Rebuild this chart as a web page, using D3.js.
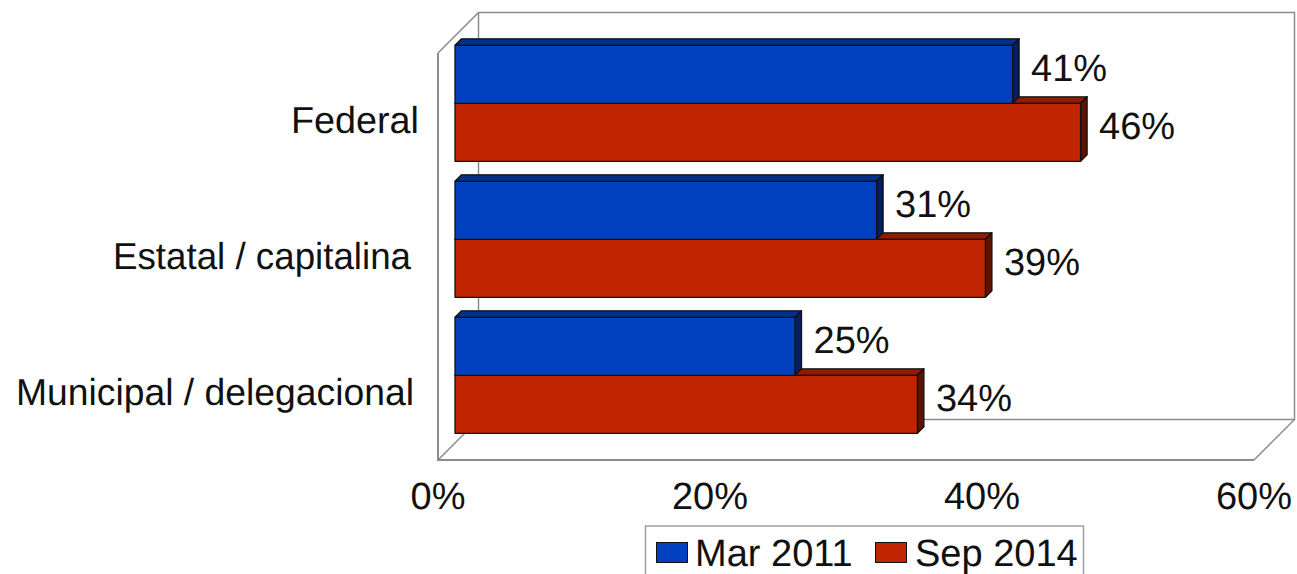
<!DOCTYPE html>
<html><head><meta charset="utf-8">
<script src="https://cdn.jsdelivr.net/npm/d3@7"></script>
<style>html,body{margin:0;padding:0;background:#fff;overflow:hidden}svg{display:block}text{font-family:"Liberation Sans",Arial,sans-serif;fill:#111;text-rendering:geometricPrecision}</style>
</head><body><svg id="c" width="1297" height="574"></svg>
<script>
const categories = ["Federal","Estatal / capitalina","Municipal / delegacional"];
const seriesNames = ["Mar 2011","Sep 2014"];
const mar2011 = [41,31,25];
const sep2014 = [46,39,34];
const tickValues = [0,20,40,60];
const frontColors = ["#0040BE","#C02400"];
const topColors = ["#00308E","#901B00"];
const sideColors = ["#002060","#601200"];

const svg = d3.select("#c");
const x = d3.scaleLinear().domain([0,60]).range([438,1254]);
const y = d3.scaleBand().domain(categories).range([35.3,443.3]).paddingInner(20/136).paddingOuter(10/136);
const sub = d3.scaleBand().domain(seriesNames).range([0,y.bandwidth()]);
const wallOff = 40.5, floorY = 460, wallTop = 53, barZ = 17, d = 6.5, grey = "#8c8c8c";

// walls
const wall = svg.append("g").attr("fill","none").attr("stroke",grey);
const x0 = x(0), x1 = x(60);
wall.append("path").attr("stroke-width",2)
  .attr("d",`M${x0},${wallTop}V${floorY}H${x1}`);
wall.append("path").attr("stroke-width",1.5)
  .attr("d",`M${x0},${wallTop}L${x0+wallOff},${wallTop-wallOff}H${x1+wallOff}V${floorY-wallOff}L${x1},${floorY}`);
wall.append("path").attr("stroke-width",1.5)
  .attr("d",`M${x0},${floorY}L${x0+wallOff},${floorY-wallOff}V${wallTop-wallOff}M${x0+wallOff},${floorY-wallOff}H${x1+wallOff}`);

// bars: the lower bar of each pair goes first so the upper one's front hides its top face
const rows = categories.flatMap((c,i)=>[
  {c,s:0,v:mar2011[i]},
  {c,s:1,v:sep2014[i]}
]);
const drawOrder = categories.flatMap(c=>rows.filter(r=>r.c===c).reverse());
const bars = svg.append("g").attr("stroke","#111").attr("stroke-width",1.3).attr("stroke-linejoin","round");
drawOrder.forEach(r=>{
  const g = bars.append("g");
  const xl = x(0)+barZ, xr = x(r.v)+barZ;
  const yt = y(r.c)+sub(seriesNames[r.s]), h = sub.bandwidth();
  g.append("path").attr("fill",topColors[r.s])
    .attr("d",`M${xl},${yt}L${xl+d},${yt-d}H${xr+d}L${xr},${yt}Z`);
  g.append("path").attr("fill",sideColors[r.s])
    .attr("d",`M${xr},${yt}L${xr+d},${yt-d}V${yt+h-d}L${xr},${yt+h}Z`);
  g.append("rect").attr("x",xl).attr("y",yt).attr("width",xr-xl).attr("height",h).attr("fill",frontColors[r.s]);
});
// value labels
svg.append("g").selectAll("text").data(rows).join("text")
  .attr("x",r=>x(r.v)+barZ+d+12)
  .attr("y",r=>y(r.c)+sub(seriesNames[r.s])+sub.bandwidth()/2+7)
  .attr("font-size",38)
  .text(r=>r.v+"%");
// category labels
const catRight = [419,411,414];
const catWidth = [128,298,398];
svg.append("g").selectAll("text").data(categories).join("text")
  .attr("x",(c,i)=>catRight[i]-catWidth[i]).attr("y",c=>y(c)+y.bandwidth()/2+30)
  .attr("font-size",37.5).attr("textLength",(c,i)=>catWidth[i]).attr("lengthAdjust","spacingAndGlyphs").text(c=>c);
// x ticks
svg.append("g").selectAll("text").data(tickValues).join("text")
  .attr("x",v=>x(v)).attr("y",509).attr("text-anchor","middle").attr("font-size",38).text(v=>v+"%");
// legend
const lg = svg.append("g");
lg.append("rect").attr("x",645.5).attr("y",526).attr("width",438).attr("height",60).attr("fill","#fff").attr("stroke","#a0a0a0").attr("stroke-width",1.5);
const legX = [656.5,875.5], legT = [695,915];
seriesNames.forEach((n,i)=>{
  lg.append("rect").attr("x",legX[i]).attr("y",542.5).attr("width",31).attr("height",20).attr("fill",frontColors[i]).attr("stroke","#111").attr("stroke-width",1);
  lg.append("text").attr("x",legT[i]).attr("y",566).attr("font-size",38).text(n);
});
</script></body></html>
